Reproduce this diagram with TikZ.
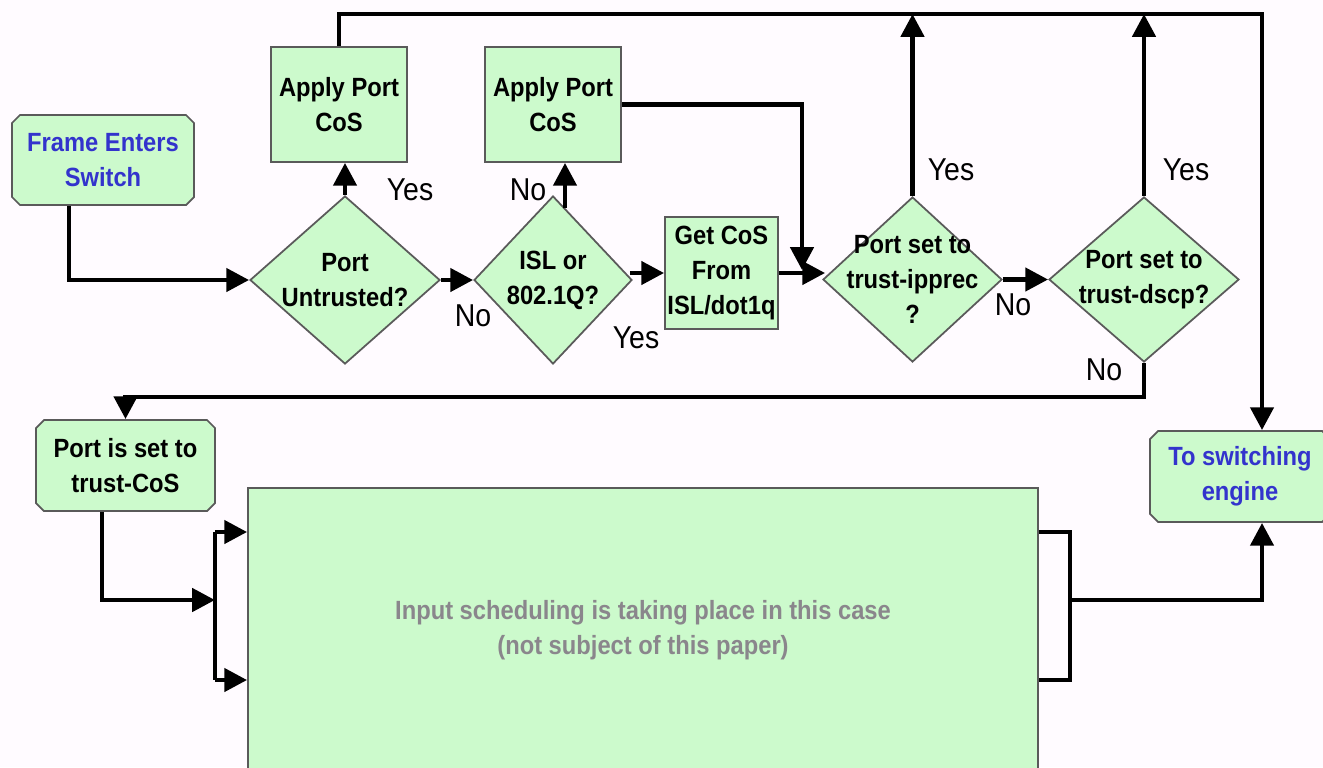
\documentclass[tikz,border=0pt]{standalone}
\usepackage{fontspec}
\setmainfont{Liberation Sans}[FakeStretch=0.9]
\usetikzlibrary{arrows.meta,shapes.geometric,shapes.misc}

\definecolor{boxfill}{RGB}{204,250,204}
\definecolor{boxline}{RGB}{90,90,90}
\definecolor{titleblue}{RGB}{51,51,204}
\definecolor{notegray}{RGB}{138,134,140}
\definecolor{paper}{RGB}{255,251,255}

\begin{document}
\begin{tikzpicture}[scale=1,
        flow/.style={line width=1.4pt, -{Triangle[length=6.5pt,width=6.5pt]}},
        wire/.style={line width=1.4pt},
        box/.style={draw=boxline, line width=0.5pt, fill=boxfill, align=center, inner sep=0pt,
            font=\fontsize{7.5}{10}\selectfont\bfseries},
        endbox/.style={box, chamfered rectangle, chamfered rectangle xsep=0.04cm, chamfered rectangle ysep=0.04cm},
        decision/.style={box, diamond, inner sep=-0.3cm},
        lbl/.style={font=\fontsize{9}{10}\selectfont}]
        \clip (0,0) rectangle (13.23,7.67);
        \fill[paper] (0,0) rectangle (13.23,7.67);

        % boxes and decisions
        \node[endbox, text=titleblue, minimum width=1.82cm, minimum height=0.90cm] (frame) at (1.03,6.07) {Frame Enters\\Switch};
        \node[box, minimum width=1.36cm, minimum height=1.15cm] (applya) at (3.39,6.625) {Apply Port\\CoS};
        \node[box, minimum width=1.36cm, minimum height=1.15cm] (applyb) at (5.53,6.625) {Apply Port\\CoS};
        \node[decision, minimum width=1.90cm, minimum height=1.68cm] (untrust) at (3.45,4.87) {Port\\Untrusted?};
        \node[decision, minimum width=1.58cm, minimum height=1.68cm] (islq) at (5.53,4.87) {ISL or\\802.1Q?};
        \node[box, minimum width=1.13cm, minimum height=1.12cm] (getcos) at (7.215,4.94) {Get CoS\\From\\ISL/dot1q};
        \node[decision, minimum width=1.79cm, minimum height=1.65cm] (ipprec) at (9.125,4.875) {Port set to\\trust-ipprec\\?};
        \node[decision, minimum width=1.90cm, minimum height=1.65cm] (dscp) at (11.44,4.875) {Port set to\\trust-dscp?};
        \node[endbox, minimum width=1.79cm, minimum height=0.91cm] (portcos) at (1.255,3.015) {Port is set to\\trust-CoS};
        \node[endbox, text=titleblue, minimum width=1.80cm, minimum height=0.91cm] (engine) at (12.40,2.905) {To switching\\engine};
        \node[box, rectangle, text=notegray, minimum width=7.90cm, minimum height=2.84cm] (sched) at (6.43,1.37)
            {Input scheduling is taking place in this case\\(not subject of this paper)};

        % corner points
        \coordinate (topR) at (12.62,7.53);
        \coordinate (join) at (8.02,4.97);
        \coordinate (back) at (1.255,3.70);
        \coordinate (inT) at (2.15,2.35);
        \coordinate (inM) at (2.15,1.67);
        \coordinate (inB) at (2.15,0.87);
        \coordinate (outT) at (10.70,2.35);
        \coordinate (outM) at (10.70,1.67);
        \coordinate (outB) at (10.70,0.87);

        % connectors
        \draw[flow] ([xshift=-0.34cm]frame.south) |- (untrust.west);
        \draw[flow] (untrust.north) -- (untrust.north |- applya.south);
        \draw[flow] (untrust.east) -- (islq.west);
        \draw[flow] ([shift={(0.12,-0.13)}]islq.north) -- ([xshift=0.12cm]applyb.south);
        \draw[flow] ([xshift=-0.03cm]islq.east |- getcos.west) -- (getcos.west);
        \draw[flow] (getcos.east) -- ([xshift=0.03cm]getcos.east -| ipprec.west);
        \draw[flow] (applyb.east) -| (join);
        \draw[flow] (ipprec.east) -- (dscp.west);
        \draw[flow] (applya.north) |- (topR) -- (topR |- engine.north);
        \draw[flow] (ipprec.north) -- (ipprec.north |- topR);
        \draw[flow] (dscp.north) -- (dscp.north |- topR);
        \draw[flow] (dscp.south) |- (back) -- (portcos.north);
        \draw[flow] ([xshift=-0.235cm]portcos.south) |- (inM);
        \draw[wire] (inT) -- (inB);
        \draw[flow] (inT) -- (inT -| sched.west);
        \draw[flow] (inB) -- (inB -| sched.west);
        \draw[wire] (outT -| sched.east) -- (outT) -- (outB) -- (outB -| sched.east);
        \draw[flow] (outM) -| (engine.south -| topR);

        % yes / no labels
        \node[lbl] (yesa) at (4.10,5.77) {Yes};
        \node[lbl] (noa) at (4.73,4.51) {No};
        \node[lbl] (nob) at (5.28,5.77) {No};
        \node[lbl] (yesb) at (6.36,4.29) {Yes};
        \node[lbl] (yesc) at (9.51,5.97) {Yes};
        \node[lbl] (noc) at (10.13,4.62) {No};
        \node[lbl] (yesd) at (11.86,5.97) {Yes};
        \node[lbl] (nod) at (11.04,3.97) {No};
    \end{tikzpicture}
\end{document}
